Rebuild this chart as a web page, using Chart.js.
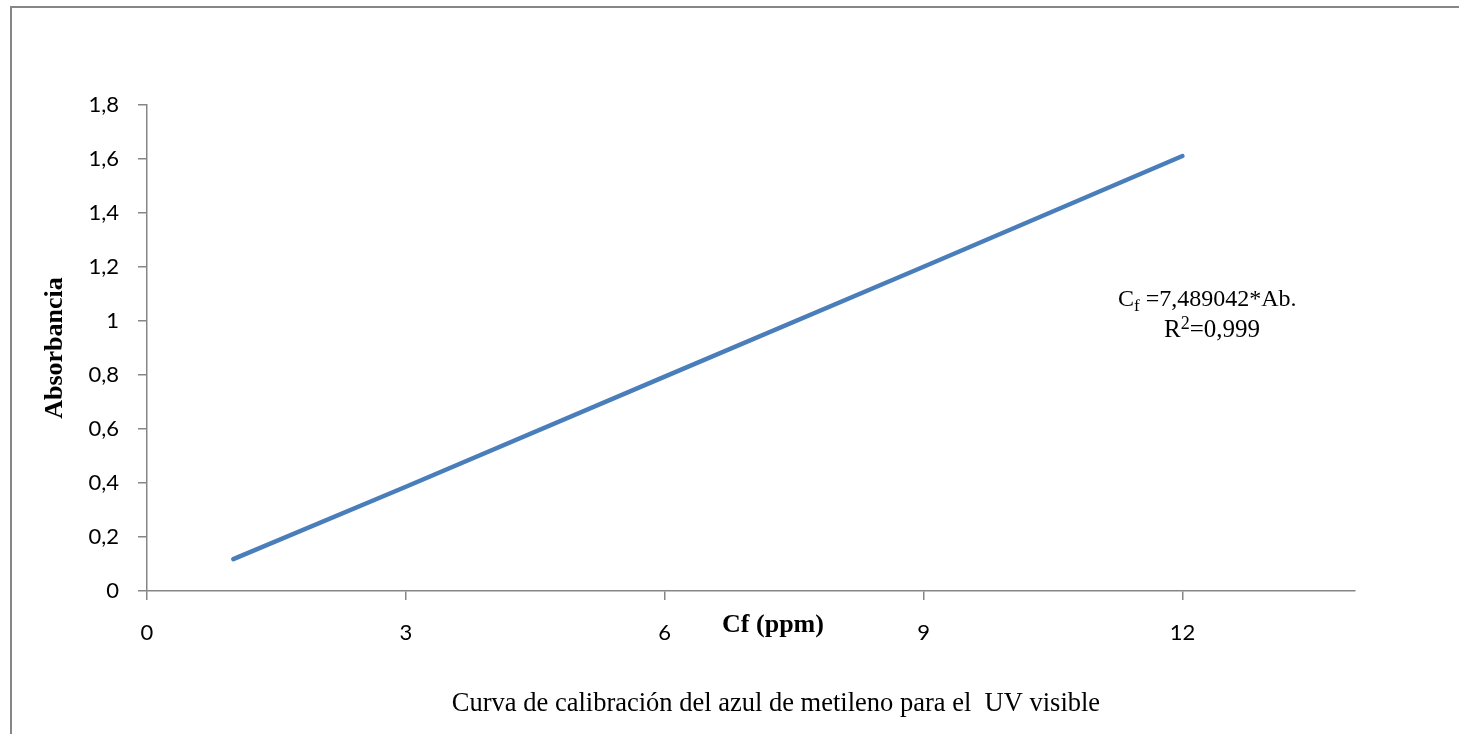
<!DOCTYPE html>
<html>
<head>
<meta charset="utf-8">
<script src="https://cdn.jsdelivr.net/npm/chart.js@4.4.0/dist/chart.umd.min.js"></script>
<style>
  html, body { margin: 0; padding: 0; background: #ffffff; }
  #wrap { width: 1459px; height: 734px; position: relative; }
</style>
</head>
<body>
<div id="wrap"><canvas id="chart" width="1459" height="734"></canvas></div>
<script>
// Calibration curve of methylene blue (UV-visible)
const concentrations = [1, 3, 6, 9, 12];              // Cf (ppm)
const absorbances    = [0.118, 0.386, 0.794, 1.201, 1.611];
const xTickValues = [0, 3, 6, 9, 12];
const yTickValues = [0, 0.2, 0.4, 0.6, 0.8, 1, 1.2, 1.4, 1.6, 1.8];

const xAxisTitle = 'Cf (ppm)';
const yAxisTitle = 'Absorbancia';
const caption = 'Curva de calibración del azul de metileno para el  UV visible';
const equationMain = 'C';
const equationSub = 'f';
const equationRest = ' =7,489042*Ab.';
const fitText = 'R';
const fitSup = '2';
const fitRest = '=0,999';

const AXIS_GREY = '#868686';
const LINE_BLUE = '#4a7ebb';
const SERIF = '"Liberation Serif", "Times New Roman", serif';
const SANS = 'Lato, "Open Sans", sans-serif';

const fmtComma = v => String(+Number(v).toFixed(1)).replace('.', ',');

// Extra text: outer frame, axis titles, regression note and caption
const decorations = {
  id: 'decorations',
  beforeDraw(chart) {
    const ctx = chart.ctx;
    ctx.save();
    ctx.strokeStyle = AXIS_GREY;
    ctx.lineWidth = 2;
    ctx.beginPath();
    ctx.moveTo(11, 740);
    ctx.lineTo(11, 7);
    ctx.lineTo(1470, 7);
    ctx.stroke();
    ctx.restore();
  },
  afterDraw(chart) {
    const ctx = chart.ctx;
    const area = chart.chartArea;
    ctx.save();
    ctx.fillStyle = '#000000';

    // y axis title
    ctx.font = 'bold 26px ' + SERIF;
    ctx.textAlign = 'center';
    ctx.textBaseline = 'alphabetic';
    ctx.save();
    ctx.translate(62, (area.top + area.bottom) / 2);
    ctx.rotate(-Math.PI / 2);
    ctx.fillText(yAxisTitle, 0, 0);
    ctx.restore();

    // x axis title
    ctx.font = 'bold 26px ' + SERIF;
    ctx.fillText(xAxisTitle, 773, 632);

    // caption
    ctx.font = '26.5px ' + SERIF;
    ctx.fillText(caption, 776, 711);

    // regression note
    ctx.textAlign = 'left';
    let x = 1118;
    ctx.font = '24px ' + SERIF;
    ctx.fillText(equationMain, x, 306);
    x += ctx.measureText(equationMain).width;
    ctx.font = '17px ' + SERIF;
    ctx.fillText(equationSub, x, 311);
    x += ctx.measureText(equationSub).width;
    ctx.font = '24px ' + SERIF;
    ctx.fillText(equationRest, x, 306);

    x = 1164;
    ctx.font = '25px ' + SERIF;
    ctx.fillText(fitText, x, 337);
    x += ctx.measureText(fitText).width;
    ctx.font = '18px ' + SERIF;
    ctx.fillText(fitSup, x, 329);
    x += ctx.measureText(fitSup).width;
    ctx.font = '25px ' + SERIF;
    ctx.fillText(fitRest, x, 337);
    ctx.restore();
  }
};

new Chart(document.getElementById('chart'), {
  type: 'line',
  data: {
    datasets: [{
      data: concentrations.map((c, i) => ({ x: c, y: absorbances[i] })),
      borderColor: LINE_BLUE,
      borderWidth: 4.5,
      borderCapStyle: 'round',
      borderJoinStyle: 'round',
      pointRadius: 0,
      tension: 0,
      fill: false
    }]
  },
  options: {
    responsive: false,
    animation: false,
    layout: { padding: { left: 0, top: 105, right: 104, bottom: 0 } },
    plugins: { legend: { display: false }, tooltip: { enabled: false } },
    scales: {
      x: {
        type: 'linear',
        min: 0,
        max: 14,
        afterBuildTicks: s => { s.ticks = xTickValues.map(v => ({ value: v })); },
        afterFit: s => { s.height = 734 - 591; },
        grid: { drawOnChartArea: false, drawTicks: true, tickLength: 9, color: AXIS_GREY, lineWidth: 1.5 },
        border: { display: true, color: AXIS_GREY, width: 1.5 },
        ticks: {
          color: '#000000',
          font: { family: SANS, size: 22 },
          padding: 20,
          maxRotation: 0,
          callback: v => fmtComma(v)
        }
      },
      y: {
        type: 'linear',
        min: 0,
        max: 1.8,
        afterBuildTicks: s => { s.ticks = yTickValues.map(v => ({ value: v })); },
        afterFit: s => { s.width = 147; },
        grid: { drawOnChartArea: false, drawTicks: true, tickLength: 9, color: AXIS_GREY, lineWidth: 1.5 },
        border: { display: true, color: AXIS_GREY, width: 1.5 },
        ticks: {
          color: '#000000',
          font: { family: SANS, size: 22 },
          padding: 19,
          callback: v => fmtComma(v)
        }
      }
    }
  },
  plugins: [decorations]
});
</script>
</body>
</html>
